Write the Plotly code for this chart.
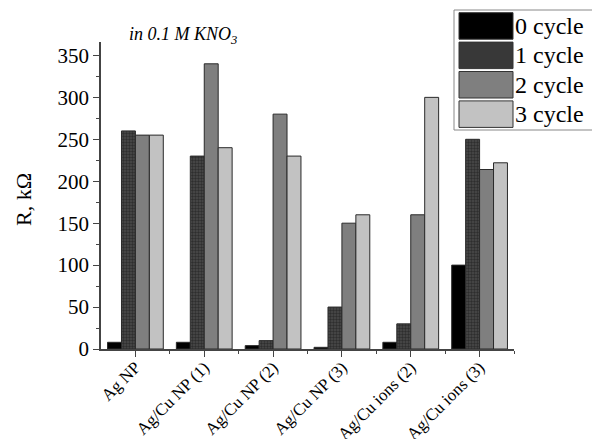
import plotly.graph_objects as go

categories = ["Ag NP", "Ag/Cu NP (1)", "Ag/Cu NP (2)", "Ag/Cu NP (3)", "Ag/Cu ions (2)", "Ag/Cu ions (3)"]
series_names = ["0 cycle", "1 cycle", "2 cycle", "3 cycle"]
cycle0 = [8, 8, 4, 2, 8, 100]
cycle1 = [260, 230, 10, 50, 30, 250]
cycle2 = [255, 340, 280, 150, 160, 214]
cycle3 = [255, 240, 230, 160, 300, 222]
y_ticks = [0, 50, 100, 150, 200, 250, 300, 350]

values = [cycle0, cycle1, cycle2, cycle3]
colors = ["#000000", "#383838", "#7f7f7f", "#c2c2c2"]
patterns = ["", ".", "", ""]

FONT = "Liberation Serif"
xpos = list(range(len(categories)))

fig = go.Figure()
for name, vals, col, pat in zip(series_names, values, colors, patterns):
    marker = dict(color=col, line=dict(color="#2a2a2a", width=1))
    if pat:
        marker["pattern"] = dict(shape=pat, fgcolor="#111111", bgcolor="#4a4a4a", size=3, solidity=0.5)
    fig.add_trace(go.Bar(x=xpos, y=vals, name=name, marker=marker, showlegend=False))

# custom legend with large swatches, positioned in plot-area (paper) fractions
W, H = 413.0, 307.0  # plot area size in px
def px_x(v):
    return (v - 101) / W
def px_y(v):
    return (349 - v) / H

shp = []
ann = []
shp.append(dict(type="rect", xref="paper", yref="paper", x0=px_x(454), x1=px_x(600), y0=px_y(130), y1=px_y(10),
                line=dict(color="#888888", width=1), fillcolor="white", layer="above"))
for i, (name, col) in enumerate(zip(series_names, colors)):
    top = 12.7 + i * 29.4
    bot = top + 26.5
    shp.append(dict(type="rect", xref="paper", yref="paper", x0=px_x(459), x1=px_x(513), y0=px_y(bot), y1=px_y(top),
                    line=dict(color="#333333", width=1), fillcolor=col, layer="above"))
    ann.append(dict(xref="paper", yref="paper", x=px_x(514), y=px_y((top + bot) / 2), text=name, showarrow=False,
                    xanchor="left", yanchor="middle", borderpad=0,
                    font=dict(family=FONT, size=24, color="black")))

ann.append(dict(xref="paper", yref="paper", x=px_x(127), y=px_y(35), text="<i>in 0.1 M KNO<sub>3</sub></i>",
                showarrow=False, xanchor="left", yanchor="middle", font=dict(family=FONT, size=18, color="black")))
ann.append(dict(xref="paper", yref="paper", x=px_x(23), y=px_y(200), text="R, kΩ", textangle=-90,
                showarrow=False, xanchor="center", yanchor="middle", font=dict(family=FONT, size=22, color="black")))

fig.update_layout(
    width=592, height=439,
    margin=dict(l=101, r=78, t=42, b=90),
    paper_bgcolor="white", plot_bgcolor="white",
    barmode="group", bargap=0.19, bargroupgap=0,
    shapes=shp, annotations=ann,
    font=dict(family=FONT, color="black"),
)
fig.update_xaxes(
    range=[-0.5, 5.5], tickmode="array", tickvals=xpos, ticktext=categories, automargin=False,
    tickangle=-45, tickfont=dict(family=FONT, size=17, color="black"), ticklabelstandoff=-6,
    showline=True, linecolor="#444444", linewidth=1.5, ticks="outside", ticklen=6, tickcolor="#444444",
    minor=dict(tickmode="array", tickvals=[i + 0.5 for i in xpos], ticks="outside", ticklen=3, tickcolor="#444444"),
    showgrid=False, zeroline=False,
)
fig.update_yaxes(
    range=[0, 366], tickmode="array", tickvals=y_ticks, automargin=False,
    tickfont=dict(family=FONT, size=21, color="black"),
    showline=True, linecolor="#444444", linewidth=1.5, ticks="outside", ticklen=6, tickcolor="#444444",
    minor=dict(tickmode="linear", tick0=25, dtick=50, ticks="outside", ticklen=3, tickcolor="#444444"),
    showgrid=False, zeroline=False,
)
fig.write_html("out.html", config={"displayModeBar": False},
               post_script="document.body.style.margin='0';document.body.style.padding='0';document.body.style.overflow='hidden';")
